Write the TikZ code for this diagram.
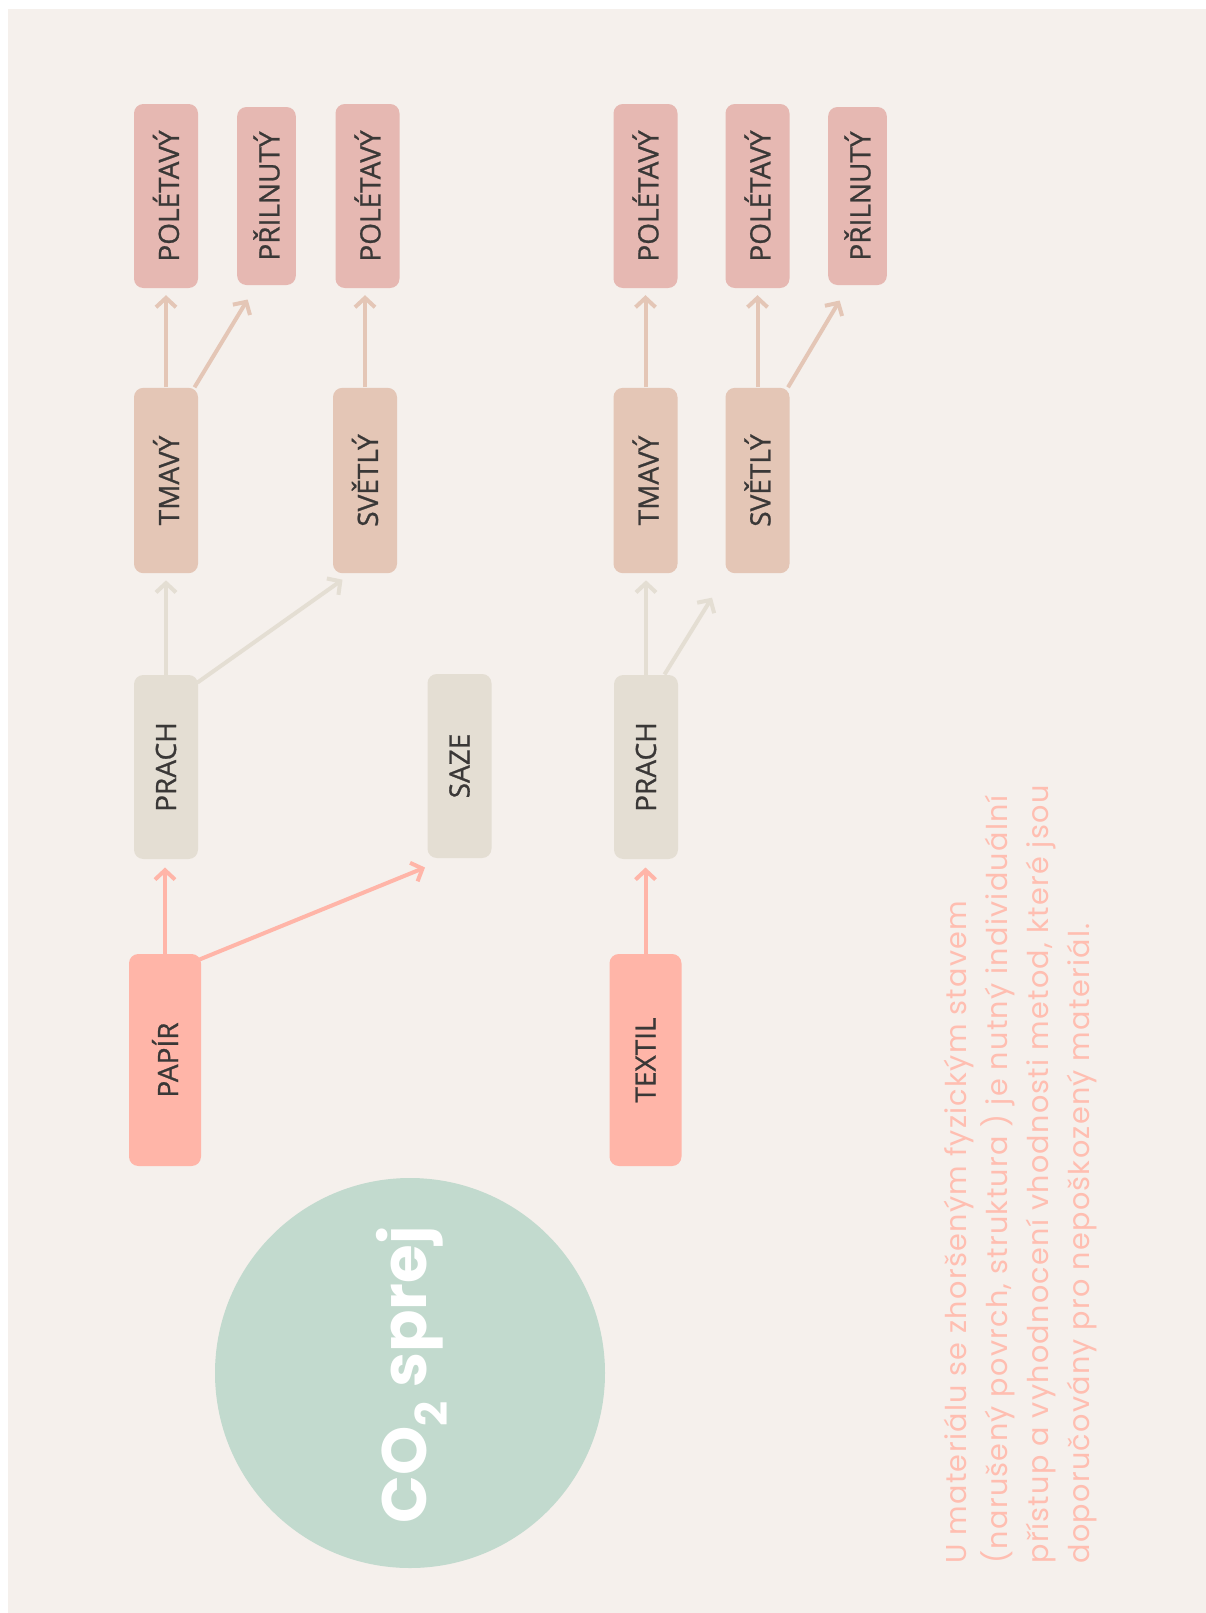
\documentclass[tikz,border=0pt]{standalone}
\usepackage{fontspec}
\usepackage{graphicx}
\usetikzlibrary{arrows.meta,calc}

\newfontfamily\lblfont[FakeBold=0.8]{Open Sans}
\newfontfamily\popfont{Poppins}
\newfontfamily\notefont[LetterSpace=4.5]{Poppins}

\definecolor{bgcol}{RGB}{245,240,236}
\definecolor{papircol}{RGB}{255,181,168}
\definecolor{dustcol}{RGB}{228,222,211}
\definecolor{tonecol}{RGB}{228,198,182}
\definecolor{statecol}{RGB}{230,184,178}
\definecolor{sprejcol}{RGB}{194,218,206}
\definecolor{notecol}{RGB}{255,190,177}
\definecolor{lblgrey}{RGB}{58,56,55}

\tikzset{every picture/.style={line width=0.75pt}}
\tikzset{
  box/.style={rounded corners=7pt, inner sep=0pt, text=lblgrey,
    font=\lblfont\fontsize{21}{25}\selectfont},
  srcbox/.style={box, fill=papircol, minimum width=54pt, minimum height=159pt},
  dustbox/.style={box, fill=dustcol, minimum width=48pt, minimum height=138pt},
  tonebox/.style={box, fill=tonecol, minimum width=48pt, minimum height=139pt},
  statebox/.style={box, fill=statecol, minimum width=48pt, minimum height=138pt},
  stickbox/.style={box, fill=statecol, minimum width=44pt, minimum height=133.5pt},
  arr/.style={line width=3pt, -{Straight Barb[length=7pt,width=15pt]}},
  arrsrc/.style={arr, draw=papircol},
  arrdust/.style={arr, draw=dustcol},
  arrtone/.style={arr, draw=tonecol},
}

\begin{document}
\begin{tikzpicture}[x=0.75pt,y=0.75pt,yscale=-1,xscale=1]
	\useasboundingbox (0,0) rectangle (1206,1613);

	%Shape: Rectangle [background]
	\fill[bgcol] (8,9) rectangle (1206,1613);

	%Shape: Circle
	\fill[sprejcol] (410,1373) circle (195);
	% Text Node
	\node[rotate=90, text=white, font=\popfont\bfseries\fontsize{47}{50}\selectfont] (sprej) at (412,1375) {CO\textsubscript{2} sprej};

	% Nodes: papir
	\node[srcbox] (papir) at (165,1060) {\rotatebox{90}{PAPÍR}};
	\node[dustbox] (prach1) at (166,767) {\rotatebox{90}{PRACH}};
	\node[dustbox] (saze) at (459.5,766) {\rotatebox{90}{SAZE}};
	\node[tonebox] (tmavy1) at (166,480.5) {\rotatebox{90}{TMAVÝ}};
	\node[tonebox] (svetly1) at (365,480.5) {\rotatebox{90}{SVĚTLÝ}};
	\node[statebox] (poletavy1) at (166,196) {\rotatebox{90}{POLÉTAVÝ}};
	\node[stickbox] (prilnuty1) at (266.5,196) {\rotatebox{90}{PŘILNUTÝ}};
	\node[statebox] (poletavy2) at (367.5,196) {\rotatebox{90}{POLÉTAVÝ}};

	% Nodes: textil
	\node[srcbox] (textil) at (645.5,1060) {\rotatebox{90}{TEXTIL}};
	\node[dustbox] (prach2) at (646,767) {\rotatebox{90}{PRACH}};
	\node[tonebox] (tmavy2) at (645.5,480.5) {\rotatebox{90}{TMAVÝ}};
	\node[tonebox] (svetly2) at (757.5,480.5) {\rotatebox{90}{SVĚTLÝ}};
	\node[statebox] (poletavy3) at (645.5,196) {\rotatebox{90}{POLÉTAVÝ}};
	\node[statebox] (poletavy4) at (757.5,196) {\rotatebox{90}{POLÉTAVÝ}};
	\node[stickbox] (prilnuty2) at (857.5,196) {\rotatebox{90}{PŘILNUTÝ}};

	%Straight Lines: papir
	\draw[arrsrc, shorten >=6pt] (papir.north) -- (papir.north |- prach1.south);
	\draw[arrsrc] ($(papir.north east)+(-2,6)$) -- ($(saze.south west)+(-2,9)$);
	\draw[arrdust, shorten >=5pt] (prach1.north) -- (prach1.north |- tmavy1.south);
	\draw[arrdust] ($(prach1.north east)+(-1,8)$) -- ($(svetly1.south west)+(10,6)$);
	\draw[arrtone, shorten >=5pt] (tmavy1.north) -- (tmavy1.north |- poletavy1.south);
	\draw[arrtone] ($(tmavy1.north east)+(-4,0)$) -- ($(prilnuty1.south west)+(11,14)$);
	\draw[arrtone, shorten >=5pt] (svetly1.north) -- (svetly1.north |- poletavy2.south);

	%Straight Lines: textil
	\draw[arrsrc, shorten >=6pt] (textil.north) -- (textil.north |- prach2.south);
	\draw[arrdust, shorten >=5pt] (prach2.north) -- (prach2.north |- tmavy2.south);
	\draw[arrdust] ($(prach2.north east)+(-14,0)$) -- ($(svetly2.south west)+(-13,24)$);
	\draw[arrtone, shorten >=5pt] (tmavy2.north) -- (tmavy2.north |- poletavy3.south);
	\draw[arrtone, shorten >=5pt] (svetly2.north) -- (svetly2.north |- poletavy4.south);
	\draw[arrtone] ($(svetly2.north east)+(-2,0)$) -- ($(prilnuty2.south west)+(12,15)$);

	% Text Node
	\node[rotate=90, anchor=north west, inner sep=0pt, align=left, text=notecol,
	  font=\notefont\fontsize{21.5}{30.75}\selectfont] (note) at (944,1564)
	  {U materiálu se zhoršeným fyzickým stavem\\
	   (narušený povrch, struktura ) je nutný individuální\\
	   přístup a vyhodnocení vhodnosti metod, které jsou\\
	   doporučovány pro nepoškozený materiál.};

\end{tikzpicture}
\end{document}
